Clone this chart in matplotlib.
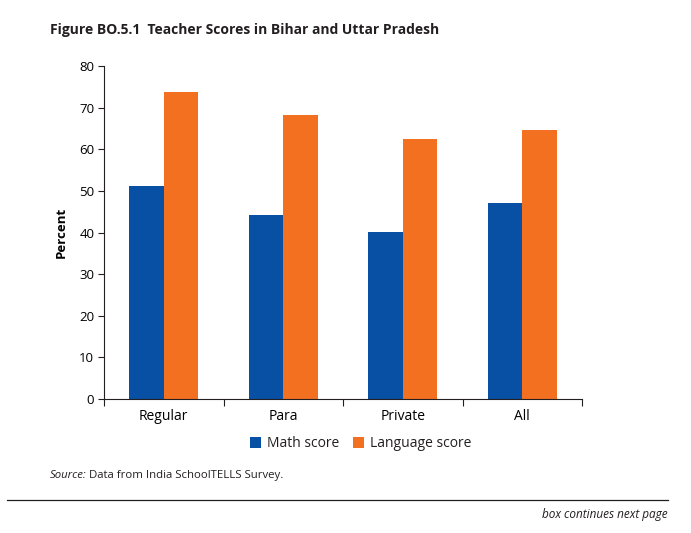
import numpy as np
import matplotlib
matplotlib.use("Agg")
import matplotlib.pyplot as plt
from matplotlib.lines import Line2D

kategorije = ["Regular", "Para", "Private", "All"]
math_score = [51.2, 44.2, 40.1, 47.1]
language_score = [73.7, 68.2, 62.4, 64.6]

plava = "#0750a4"
narancasta = "#f37021"

plt.rcParams["font.family"] = ["Open Sans", "DejaVu Sans"]
plt.rcParams["text.color"] = "#231f20"

fig = plt.figure(figsize=(6.91, 5.33), dpi=100)
ax = fig.add_axes([0.1505, 0.2514, 0.6918, 0.6246])

x = np.arange(len(kategorije))
w = 0.29
ax.bar(x - w / 2, math_score, w, color=plava, label="Math score")
ax.bar(x + w / 2, language_score, w, color=narancasta, label="Language score")

ax.set_xlim(-0.5, len(kategorije) - 0.5)
ax.set_ylim(0, 80)
ax.set_yticks(range(0, 81, 10))
ax.set_xticks(x)
ax.set_xticklabels(kategorije, fontsize=10)
ax.set_xticks(np.arange(-0.5, len(kategorije), 1), minor=True)
ax.tick_params(axis="x", which="major", length=0, pad=7)
ax.tick_params(axis="x", which="minor", length=5, width=0.8, color="#231f20", direction="out")
ax.tick_params(axis="y", length=4, width=0.8, color="#231f20", labelsize=9.5, pad=3)
for s in ["top", "right"]:
    ax.spines[s].set_visible(False)
for s in ["left", "bottom"]:
    ax.spines[s].set_color("#231f20")
    ax.spines[s].set_linewidth(0.8)

ax.set_ylabel("Percent", fontsize=9.5, fontweight="bold", labelpad=8)

ax.legend(loc="upper center", bbox_to_anchor=(0.537, -0.075), ncol=2, frameon=False,
          fontsize=10, handlelength=0.8, handleheight=0.8, handletextpad=0.4,
          columnspacing=1.0)

fig.text(0.072, 0.944, "Figure BO.5.1  Teacher Scores in Bihar and Uttar Pradesh",
         fontsize=10, fontweight="bold", va="center")
src = fig.text(0.072, 0.107, "Source:", fontsize=8.2, style="italic", va="center")
fig.canvas.draw()
bb = src.get_window_extent().transformed(fig.transFigure.inverted())
fig.text(bb.x1 + 0.003, 0.107, "Data from India SchoolTELLS Survey.", fontsize=8.2, va="center")
fig.add_artist(Line2D([0.010, 0.966], [0.062, 0.062], color="#231f20", lw=0.9))
fig.text(0.966, 0.034, "box continues next page", fontsize=8.5, style="italic",
         ha="right", va="center")

fig.savefig("out.png", dpi=100)
